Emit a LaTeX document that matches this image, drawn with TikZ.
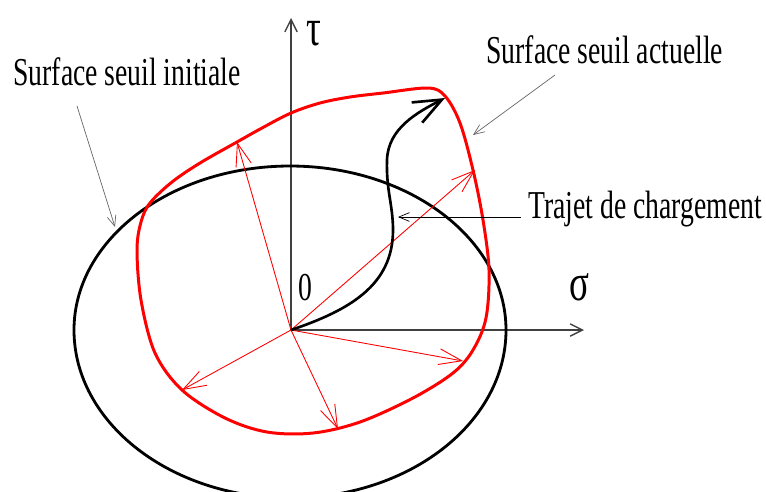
\documentclass[tikz,border=0pt]{standalone}
\usepackage{fontspec}
\usepackage{tikz}
\usetikzlibrary{arrows.meta}
\newfontfamily\lblfont[FakeStretch=0.7]{Liberation Serif}

\tikzstyle{lbl} = [inner sep=0pt, 
anchor=base west, 
font=\lblfont\fontsize{22.5}{27}\selectfont]
\tikzstyle{greek} = [inner sep=0pt, 
anchor=base west, 
font=\lblfont\fontsize{30}{34}\selectfont]
\tikzstyle{axis} = [line width=0.8pt, draw=black!75, 
-{Straight Barb[length=7pt,width=7pt]}]
\tikzstyle{curinit} = [line width=1.6pt, draw=black]
\tikzstyle{curact} = [line width=1.7pt, draw=red]
\tikzstyle{radvec} = [line width=0.5pt, draw=red, 
-{Straight Barb[length=13pt,width=9pt]}]
\tikzstyle{loadpath} = [line width=1.5pt, draw=black, 
-{Straight Barb[length=16pt,width=13pt]}]
\tikzstyle{annot} = [line width=0.4pt, draw=black!60, 
-{Straight Barb[length=6pt,width=5pt]}]

\begin{document}
\begin{tikzpicture}[x=0.02cm, y=-0.02cm]
        \useasboundingbox (0,0) rectangle (766,491);

        % origine et axes
        \coordinate (o) at (291,330);
        \coordinate (tauend) at (291,18);
        \coordinate (sigend) at (584,330);
        \draw [axis] (o) -- (tauend);
        \draw [axis] (o) -- (sigend);
        \node (tau) [greek] at (306,45) {τ};
        \node (sig) [greek] at (569,300) {σ};
        \node (zero) [lbl] at (298,300) {0};

        % surface seuil initiale
        \draw [curinit] (74,330) arc[start angle=180, end angle=0, x radius=216, y radius=168]
                arc[start angle=0, end angle=-180, x radius=216, y radius=164];

        % surface seuil actuelle
        \draw [curact] plot[smooth cycle, tension=0.55] coordinates {
                (291,113) (320,103) (350,97) (383,93) (428,88) (445,96) (460,123)
                (473,170) (483,220) (489,270) (486,318) (473,350) (453,373)
                (413,398) (360,422) (313,433) (267,432) (225,418) (182,390)
                (155,353) (141,300) (137,250) (141,222) (150,203) (172,182)
                (200,163) (237,142) (262,128)};

        \coordinate (r1) at (237,142);
        \coordinate (r2) at (475,170);
        \coordinate (r3) at (463,361);
        \coordinate (r4) at (338,429);
        \coordinate (r5) at (182,390);
        \foreach \r in {r1,r2,r3,r4,r5}
                \draw [radvec] (o) -- (\r);

        % trajet de chargement
        \coordinate (ldend) at (445,98);
        \draw [loadpath] (o) .. controls (350,310) and (393,285) .. (393,230)
                .. controls (393,205) and (386,190) .. (387,160)
                .. controls (388,128) and (418,112) .. (ldend);

        % legendes
        \node (initlbl) [lbl] at (13,85) {Surface seuil initiale};
        \node (actlbl) [lbl] at (486,63) {Surface seuil actuelle};
        \node (trajlbl) [lbl] at (528,218) {Trajet de chargement};
        \coordinate (initto) at (115,227);
        \coordinate (actto) at (473,135);
        \coordinate (trajto) at (398,217);
        \draw [annot] ([shift={(64,21)}]initlbl.base west) -- (initto);
        \draw [annot] ([shift={(69,12)}]actlbl.base west) -- (actto);
        \draw [annot, draw=black] ([shift={(-7,-1)}]trajlbl.base west) -- (trajto);

\end{tikzpicture}
\end{document}
